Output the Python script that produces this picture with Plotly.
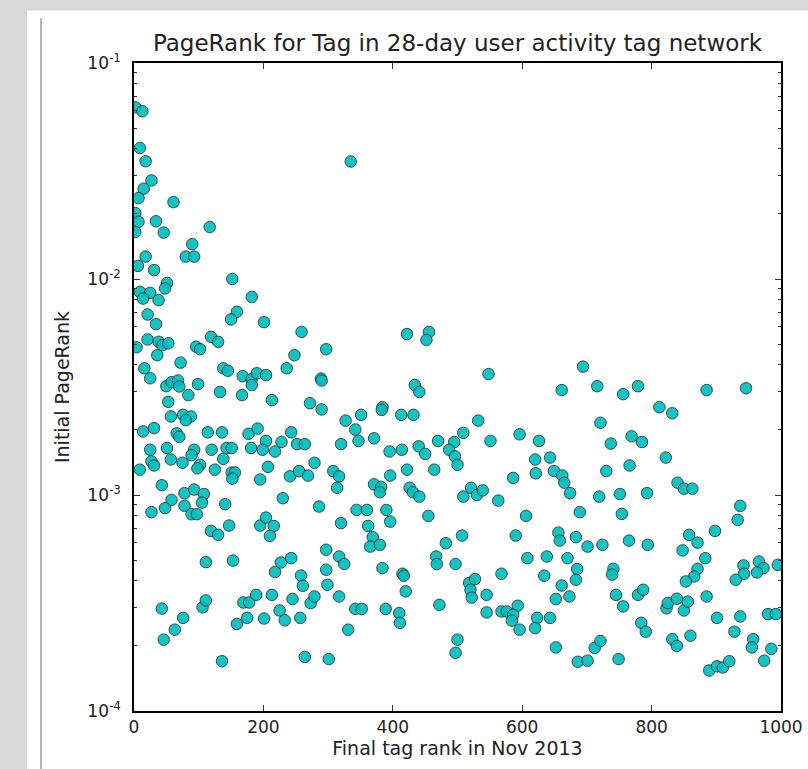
import plotly.graph_objects as go

# Final tag rank (x) and initial PageRank (y)
rank_a = [2, 13, 9, 18, 27, 15, 7, 61, 2, 7, 2, 34, 46, 117, 90, 80, 93, 18, 6, 31,
          152, 182, 51, 48, 9, 25, 14, 38, 159, 150, 21, 34, 4, 21, 38, 44, 53, 36, 119, 130,
          96, 102, 16, 25, 72, 138, 145, 168, 182, 190, 204, 182, 50, 58, 68, 70, 99, 133, 167, 84,
          53, 57, 76, 88, 80, 14, 31, 66, 70, 114, 136, 177, 25, 51, 93, 89, 120, 143, 151, 181,
          27, 31, 57, 75, 102, 98, 125, 138, 9, 151, 156, 152, 43, 78, 93, 108,
          58, 48, 27, 78, 89, 97, 105, 141, 119, 130, 147, 111, 153, 43, 63, 76, 46, 106, 111, 136,
          159, 175, 169, 178]
pr_a = [0.0624, 0.0598, 0.0404, 0.0351, 0.0286, 0.0262, 0.0237, 0.0227, 0.0202, 0.0184,
        0.0165, 0.0185, 0.0164, 0.0174, 0.0145, 0.0127, 0.0127, 0.0127, 0.0115, 0.0110,
        0.0100, 0.00826, 0.00959, 0.00904, 0.00872, 0.00863, 0.00812, 0.00798, 0.00705, 0.0065,
        0.00685, 0.00618, 0.00483, 0.00525, 0.00512, 0.00494, 0.00504, 0.00444, 0.0054, 0.00512,
        0.00486, 0.00473, 0.00386, 0.00347, 0.0041, 0.00386, 0.00376, 0.00355, 0.00344, 0.00366,
        0.00359, 0.00323, 0.00319, 0.00333, 0.00339, 0.00318, 0.00326, 0.0030, 0.0029, 0.0029,
        0.0027, 0.00231, 0.00235, 0.00231, 0.00222, 0.00197, 0.00204, 0.00193, 0.00186, 0.00195,
        0.00195, 0.00192, 0.00162, 0.00165, 0.00162, 0.00153, 0.00162, 0.00165, 0.00165, 0.00165,
        0.00143, 0.00137, 0.00146, 0.00141, 0.00138, 0.00133, 0.00131, 0.00147, 0.00131, 0.00127,
        0.00127, 0.00119, 0.00111, 0.00102, 0.00106, 0.00101,
        0.000949, 0.000869, 0.000833, 0.000891, 0.000815, 0.000815, 0.000922, 0.000907, 0.000682, 0.000654,
        0.000722, 0.000489, 0.000497, 0.000298, 0.000238, 0.00027, 0.000214, 0.000302, 0.000325, 0.00017,
        0.000253, 0.00027, 0.000318, 0.000318]

rank_b = [201, 259, 297, 248, 236, 289, 290, 213, 272, 290, 327, 191, 204, 228, 243, 252, 264, 320, 199, 218,
          195, 207, 241, 255, 269, 279, 308, 317, 314, 230, 286, 195, 204, 216, 210, 320, 218, 227, 243, 258,
          261, 297, 297, 299, 317, 325, 189, 213, 245, 273, 279, 317, 201, 225, 233, 257, 331, 264, 301, 335]
pr_b = [0.00631, 0.00569, 0.00473, 0.00444, 0.00386, 0.00346, 0.00339, 0.00275, 0.00266, 0.00249,
        0.00221, 0.00203, 0.00178, 0.00176, 0.00195, 0.00172, 0.00172, 0.00172, 0.00162, 0.00159,
        0.00118, 0.00135, 0.00122, 0.00129, 0.00123, 0.00141, 0.00129, 0.00122, 0.00108, 0.000966,
        0.000884, 0.000722, 0.000786, 0.000719, 0.000647, 0.000741, 0.00044, 0.000487, 0.00051, 0.000424,
        0.00038, 0.000558, 0.000451, 0.000384, 0.000519, 0.000479, 0.000345, 0.000345, 0.00033, 0.000316,
        0.000339, 0.000339, 0.000268, 0.000292, 0.000263, 0.00027, 0.000238, 0.000178, 0.000174, 0.035]

rank_c = [422, 456, 452, 548, 661, 434, 441, 351, 384, 383, 413, 432, 532, 342, 347, 371, 395, 414, 440, 450,
          470, 495, 509, 551, 596, 626, 487, 496, 500, 422, 464, 396, 586, 620, 621, 643, 649, 662, 665, 674,
          371, 382, 380, 426, 431, 441, 509, 521, 530, 539, 563, 606, 689, 344, 360, 390, 396, 455, 362, 369,
          365, 380, 482, 507, 590, 656, 658, 683, 384, 415, 417, 467, 468, 497, 420, 568, 608, 638, 670, 685,
          683, 634, 661, 652, 673, 518, 527, 520, 522, 545, 472, 545, 568, 576, 593, 586, 584, 596, 623, 620,
          643, 342, 352, 389, 410, 411, 500, 497, 652, 686]
pr_c = [0.00556, 0.00569, 0.00522, 0.00363, 0.00306, 0.00323, 0.0030, 0.00235, 0.00255, 0.00248,
        0.00235, 0.00235, 0.00221, 0.00201, 0.00178, 0.00183, 0.00159, 0.00162, 0.00168, 0.00155,
        0.00178, 0.00176, 0.00194, 0.00178, 0.00191, 0.00178, 0.00162, 0.00151, 0.00138, 0.00131,
        0.00131, 0.00123, 0.0012, 0.00146, 0.00126, 0.00149, 0.00129, 0.00123, 0.00114, 0.00102,
        0.00112, 0.00109, 0.00103, 0.00108, 0.00103, 0.000983, 0.000983, 0.00108, 0.0010, 0.00105,
        0.000942, 0.0008, 0.000833, 0.000853, 0.000853, 0.000853, 0.000753, 0.0008, 0.000719, 0.000638,
        0.000577, 0.000588, 0.000598, 0.000649, 0.000649, 0.00067, 0.000615, 0.000638, 0.000459, 0.000432,
        0.000423, 0.000519, 0.000479, 0.000479, 0.000358, 0.000432, 0.00051, 0.000519, 0.00051, 0.000454,
        0.000405, 0.000423, 0.000381, 0.00033, 0.000339, 0.000391, 0.000408, 0.000364, 0.000335, 0.000345,
        0.00031, 0.000286, 0.000289, 0.000289, 0.000307, 0.000279, 0.000262, 0.000238, 0.00027, 0.000242,
        0.00027, 0.000297, 0.000297, 0.000297, 0.000284, 0.000256, 0.000214, 0.000186, 0.000197, 0.000169]

rank_d = [694, 716, 756, 779, 812, 832, 885, 946, 721, 737, 769, 785, 822, 730, 766, 840, 850, 863, 719, 751,
          793, 754, 937, 933, 898, 701, 724, 765, 794, 858, 871, 848, 883, 741, 739, 871, 866, 853, 942, 943,
          930, 966, 973, 963, 995, 745, 756, 779, 787, 823, 825, 839, 850, 856, 885, 901, 937, 980, 992, 784,
          791, 832, 839, 860, 928, 957, 955, 985, 974, 701, 712, 721, 749, 889, 901, 910, 920]
pr_d = [0.00393, 0.00319, 0.00293, 0.00319, 0.00255, 0.00239, 0.00306, 0.00312, 0.00216, 0.00173,
        0.00187, 0.00176, 0.00149, 0.00129, 0.00137, 0.00114, 0.00107, 0.00107, 0.000983, 0.00101,
        0.00102, 0.000818, 0.000891, 0.000767, 0.000682, 0.000577, 0.000588, 0.000615, 0.000588, 0.000654,
        0.000602, 0.000554, 0.00051, 0.000455, 0.000428, 0.000455, 0.00042, 0.000398, 0.000472, 0.000432,
        0.000405, 0.000492, 0.000459, 0.000438, 0.000475, 0.000345, 0.000305, 0.000345, 0.000364, 0.000299,
        0.000316, 0.000331, 0.000292, 0.000321, 0.000339, 0.00027, 0.000274, 0.000281, 0.000281, 0.000256,
        0.000233, 0.000215, 0.0002, 0.000223, 0.000233, 0.000215, 0.000197, 0.000194, 0.000171, 0.000171,
        0.000196, 0.000211, 0.000174, 0.000154, 0.000161, 0.000159, 0.00017]

final_rank = rank_a + rank_b + rank_c + rank_d
initial_pagerank = pr_a + pr_b + pr_c + pr_d

x_ticks = [0, 200, 400, 600, 800, 1000]
y_ticks = [1e-4, 1e-3, 1e-2, 1e-1]
y_ticktext = ["10<sup>-4</sup>", "10<sup>-3</sup>", "10<sup>-2</sup>", "10<sup>-1</sup>"]
y_minor = [m * 10.0 ** e for e in (-4, -3, -2) for m in range(2, 10)]

FONT = "DejaVu Sans"

fig = go.Figure()
fig.add_trace(go.Scatter(
    x=final_rank, y=initial_pagerank, mode="markers",
    marker=dict(size=11.5, color="#00BFBF", opacity=0.92,
                line=dict(color="#2a3a3a", width=1)),
    hoverinfo="x+y", showlegend=False,
))

W, H = 808, 769
L, R, T, B = 134, 781, 62.5, 711.5
pw, ph = R - L, B - T


def px(xp):
    return (xp - L) / pw


def py(yp):
    return (B - yp) / ph


shapes = [
    dict(type="rect", xref="paper", yref="paper", layer="below",
         x0=px(27), x1=px(W + 5), y0=py(H + 5), y1=py(10),
         fillcolor="white", line=dict(width=0)),
    dict(type="line", xref="paper", yref="paper", layer="below",
         x0=px(41), x1=px(41), y0=py(H + 5), y1=py(18),
         line=dict(color="#b4b4b4", width=2)),
]

fig.update_layout(
    width=W, height=H,
    margin=dict(l=L, r=W - R, t=T, b=H - B, autoexpand=False),
    paper_bgcolor="#d9d9d9", plot_bgcolor="white",
    shapes=shapes,
    title=dict(text="PageRank for Tag in 28-day user activity tag network",
               x=0.5, xref="paper", xanchor="center",
               y=1 - 43 / H, yref="container", yanchor="middle",
               font=dict(family=FONT, size=23, color="#222")),
    font=dict(family=FONT, color="#222"),
)

fig.update_xaxes(
    range=[0, 1000], tickvals=x_ticks, ticktext=[str(v) for v in x_ticks],
    ticks="inside", ticklen=6, tickwidth=1, tickcolor="#333",
    showline=True, linecolor="black", linewidth=1.5, mirror="ticks",
    showgrid=False, zeroline=False,
    tickfont=dict(family=FONT, size=17, color="#222"),
    title=dict(text="Final tag rank in Nov 2013", standoff=5,
               font=dict(family=FONT, size=19, color="#222")),
)
fig.update_yaxes(
    type="log", range=[-4, -1], tickvals=y_ticks, ticktext=y_ticktext,
    ticks="inside", ticklen=6, tickwidth=1, tickcolor="#333",
    minor=dict(tickvals=y_minor, ticks="inside", ticklen=3, tickcolor="#333", showgrid=False),
    showline=True, linecolor="black", linewidth=1.5, mirror="ticks",
    showgrid=False, zeroline=False, ticklabelstandoff=8,
    tickfont=dict(family=FONT, size=17, color="#222"),
    title=dict(text="Initial PageRank", standoff=13,
               font=dict(family=FONT, size=19, color="#222")),
)

fig.write_html("out.html")
